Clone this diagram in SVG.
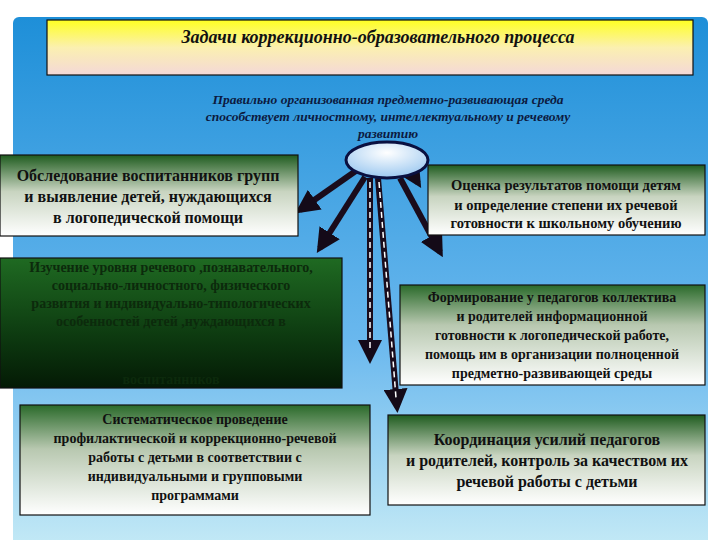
<svg xmlns="http://www.w3.org/2000/svg" width="720" height="540" viewBox="0 0 720 540" font-family="'Liberation Serif','Times New Roman',serif">
<defs>
<linearGradient id="bg" x1="0" y1="0" x2="0" y2="1"><stop offset="0" stop-color="#1e8fd8"/><stop offset="0.6" stop-color="#6ab8ee"/><stop offset="1" stop-color="#c8ecf6"/></linearGradient>
<linearGradient id="tg" x1="0" y1="0" x2="0" y2="1"><stop offset="0" stop-color="#ffff22"/><stop offset="0.5" stop-color="#fbf0b0"/><stop offset="1" stop-color="#f4d8d8"/></linearGradient>
<linearGradient id="gw" x1="0" y1="0" x2="0" y2="1"><stop offset="0" stop-color="#1f5c1f"/><stop offset="0.45" stop-color="#c8d4c0"/><stop offset="1" stop-color="#ffffff"/></linearGradient>
<linearGradient id="gd" x1="0" y1="0" x2="0" y2="1"><stop offset="0" stop-color="#1f6a22"/><stop offset="0.6" stop-color="#0d3a10"/><stop offset="1" stop-color="#041a05"/></linearGradient>
<linearGradient id="gm" x1="0" y1="0" x2="0" y2="1"><stop offset="0" stop-color="#2a6a2a"/><stop offset="0.4" stop-color="#b8c8b0"/><stop offset="1" stop-color="#ffffff"/></linearGradient>
<radialGradient id="el" cx="0.5" cy="0.3" r="0.7"><stop offset="0" stop-color="#ffffff"/><stop offset="1" stop-color="#9cc8f0"/></radialGradient>
<marker id="ah" markerWidth="4" markerHeight="4" refX="3" refY="2" orient="auto" markerUnits="strokeWidth"><path d="M0,0 L4,2 L0,4 Z" fill="#140a18"/></marker>
<style>
.bx{stroke:#111;stroke-width:1.2}
text{font-family:"Liberation Serif","Times New Roman",serif;font-weight:bold;fill:#111;text-anchor:middle}
.a{stroke:#1a0c1c;stroke-width:6;fill:none}
.d{stroke:#fff;stroke-width:1.5;stroke-dasharray:6 4;fill:none}
</style>
</defs>
<rect width="720" height="540" fill="#fff"/>
<rect x="13" y="17" width="695" height="540" rx="6" fill="url(#bg)"/>
<g id="title"><rect x="47" y="20" width="646" height="55" class="bx" fill="url(#tg)"/>
<text x="378" y="43" font-size="18" font-style="italic">Задачи коррекционно-образовательного  процесса</text></g>
<g id="subtitle" font-size="13.5" font-style="italic">
<text x="388" y="104" style="fill:#0c1a40">Правильно организованная предметно-развивающая среда</text>
<text x="388" y="121" style="fill:#0c1a40">способствует  личностному, интеллектуальному  и  речевому</text>
<text x="388" y="138" style="fill:#0c1a40">развитию</text></g>
<g id="connectors">
<line x1="360" y1="168" x2="300" y2="210" class="a" marker-end="url(#ah)"/>
<line x1="365" y1="177" x2="320" y2="248" class="a" marker-end="url(#ah)"/>
<line x1="410" y1="170" x2="418" y2="183" class="a" marker-end="url(#ah)"/>
<line x1="400" y1="178" x2="440" y2="252" class="a" marker-end="url(#ah)"/>
<line x1="370" y1="178" x2="370" y2="358" class="a" marker-end="url(#ah)"/>
<line x1="378" y1="178" x2="397" y2="407" class="a" marker-end="url(#ah)"/>
<line x1="370" y1="182" x2="370" y2="350" class="d"/>
<line x1="379" y1="182" x2="396" y2="398" class="d"/>
</g>
<g id="hub"><ellipse cx="387" cy="160" rx="41" ry="18" fill="url(#el)" stroke="#0a1040" stroke-width="3"/></g>
<g id="n1"><rect x="0" y="155" width="298" height="81" class="bx" fill="url(#gw)"/>
<text font-size="16"><tspan x="148" y="181">Обследование воспитанников групп</tspan><tspan x="148" y="202">и выявление детей, нуждающихся</tspan><tspan x="148" y="223">в логопедической  помощи</tspan></text></g>
<g id="n2"><rect x="428" y="165" width="277" height="70" class="bx" fill="url(#gw)"/>
<text font-size="14.5"><tspan x="566" y="190">Оценка результатов  помощи детям</tspan><tspan x="566" y="210">и  определение степени их речевой</tspan><tspan x="566" y="228">готовности  к  школьному  обучению</tspan></text></g>
<g id="n3"><rect x="0" y="258" width="342" height="130" class="bx" fill="url(#gd)"/>
<text font-size="14" style="fill:#0c2a0c"><tspan x="171" y="272">Изучение уровня речевого ,познавательного,</tspan><tspan x="171" y="290">социально-личностного, физического</tspan><tspan x="171" y="308">развития и индивидуально-типологических</tspan><tspan x="171" y="326">особенностей детей ,нуждающихся в</tspan><tspan x="171" y="384">воспитанников</tspan></text></g>
<g id="n4"><rect x="400" y="285" width="305" height="100" class="bx" fill="url(#gm)"/>
<text font-size="14"><tspan x="552" y="302">Формирование у  педагогов  коллектива</tspan><tspan x="552" y="321">и  родителей информационной</tspan><tspan x="552" y="340">готовности  к  логопедической работе,</tspan><tspan x="552" y="359">помощь  им  в организации полноценной</tspan><tspan x="552" y="378">предметно-развивающей  среды</tspan></text></g>
<g id="n5"><rect x="20" y="405" width="350" height="110" class="bx" fill="url(#gm)"/>
<text font-size="14"><tspan x="195" y="424">Систематическое проведение</tspan><tspan x="195" y="443">профилактической и коррекционно-речевой</tspan><tspan x="195" y="462">работы с  детьми  в соответствии с</tspan><tspan x="195" y="481">индивидуальными  и  групповыми</tspan><tspan x="195" y="500">программами</tspan></text></g>
<g id="n6"><rect x="388" y="415" width="317" height="90" class="bx" fill="url(#gw)"/>
<text font-size="16"><tspan x="547" y="445">Координация  усилий  педагогов</tspan><tspan x="547" y="466">и родителей, контроль за качеством их</tspan><tspan x="547" y="487">речевой  работы  с  детьми</tspan></text></g>
</svg>
